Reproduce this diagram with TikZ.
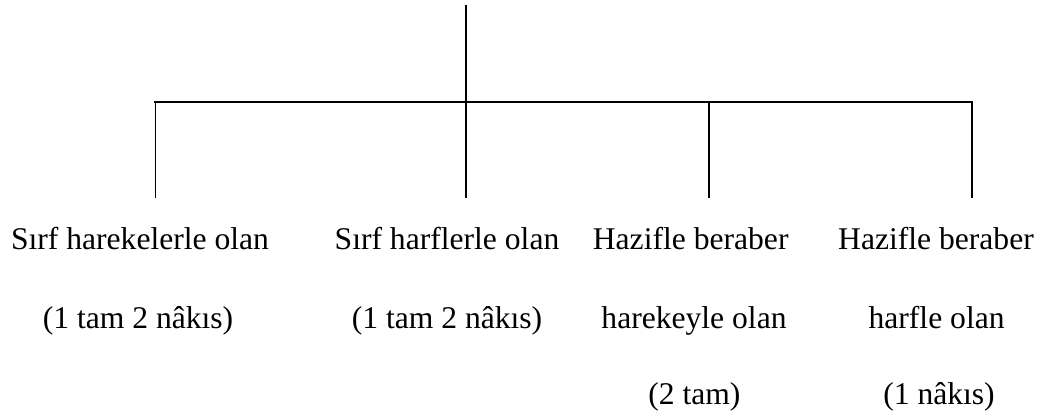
\documentclass[tikz,border=0pt]{standalone}
\usepackage{fontspec}
\setmainfont{Liberation Serif}
\begin{document}
\begin{tikzpicture}[x=1pt,y=-1pt]

      \useasboundingbox (0,0) rectangle (1050,419);

      \begin{scope}[every node/.style={inner sep=0pt,anchor=base,font=\fontsize{31.6}{38}\selectfont}]
        \node (a1) at (140,250)   {Sırf harekelerle olan};
        \node (a2) at (138,329)   {(1 tam 2 nâkıs)};
        \node (b1) at (447,250)   {Sırf harflerle olan};
        \node (b2) at (447,329)   {(1 tam 2 nâkıs)};
        \node (c1) at (690.7,250) {Hazifle beraber};
        \node (c2) at (694,329)   {harekeyle olan};
        \node (c3) at (694.4,405) {(2 tam)};
        \node (d1) at (936,250)   {Hazifle beraber};
        \node (d2) at (936.6,329) {harfle olan};
        \node (d3) at (939,405)   {(1 nâkıs)};
      \end{scope}

      \coordinate (root) at (466,5);
      \coordinate (bar)  at (466,102);
      \coordinate (j1)   at (155.5,102);
      \coordinate (j2)   at (466,102);
      \coordinate (j3)   at (709,102);
      \coordinate (j4)   at (972,102);
      \coordinate (e1)   at (155.5,198);
      \coordinate (e2)   at (466,198);
      \coordinate (e3)   at (709,198);
      \coordinate (e4)   at (972,198);

      \begin{scope}[line width=1.6pt]
        \draw (root) -- (bar);
        \draw (j1) -- (e1);
        \draw (j2) -- (e2);
        \draw (j3) -- (e3);
        \draw (j4) -- (e4);
      \end{scope}
      \draw[line width=2.2pt,line cap=rect] (j1) -- (j4);

    \end{tikzpicture}
\end{document}
